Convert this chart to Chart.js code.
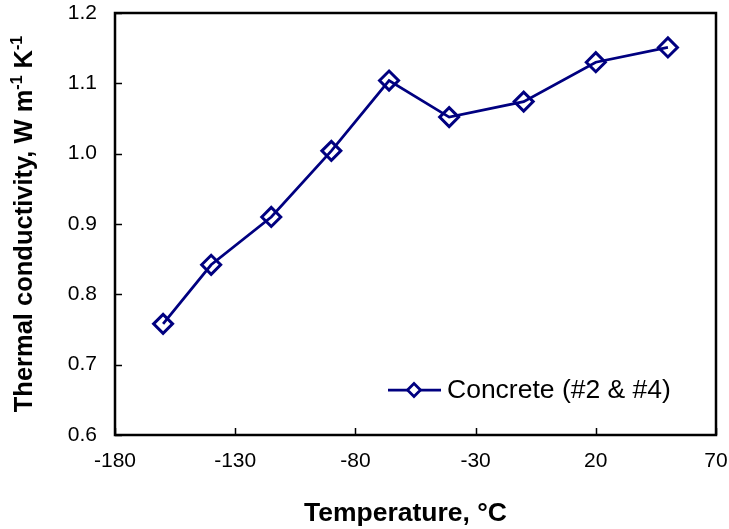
<!DOCTYPE html>
<html>
<head>
<meta charset="utf-8">
<script src="https://cdn.jsdelivr.net/npm/chart.js@4/dist/chart.umd.min.js"></script>
<style>
html,body{margin:0;padding:0;background:#fff;}
#wrap{width:729px;height:529px;}
</style>
</head>
<body>
<div id="wrap"><canvas id="c" width="729" height="529"></canvas></div>
<script>
// Data
const temperatures = [-160, -140, -115, -90, -66, -41, -10, 20, 50];
const conductivity = [0.758, 0.842, 0.910, 1.004, 1.104, 1.052, 1.074, 1.130, 1.151];
const xTickValues = [-180, -130, -80, -30, 20, 70];
const yTickValues = [0.6, 0.7, 0.8, 0.9, 1.0, 1.1, 1.2];
const seriesLabel = 'Concrete (#2 & #4)';
const xTitle = 'Temperature, °C';
// y title pieces: [text, isSuperscript]
const yTitleParts = [['Thermal conductivity, W m', false], ['-1', true], [' K', false], ['-1', true]];

const NAVY = '#000080';
const FONT = "'Liberation Sans', Arial, sans-serif";

const framePlugin = {
  id: 'frame',
  beforeDatasetsDraw(chart) {
    const {ctx, chartArea: a, scales} = chart;
    ctx.save();
    ctx.strokeStyle = '#000';
    ctx.lineWidth = 1.5;
    scales.y.ticks.forEach(t => {
      const py = Math.round(scales.y.getPixelForValue(t.value)) + 0.5;
      ctx.beginPath(); ctx.moveTo(a.left, py); ctx.lineTo(a.left + 7, py); ctx.stroke();
    });
    scales.x.ticks.forEach(t => {
      const px = Math.round(scales.x.getPixelForValue(t.value)) + 0.5;
      ctx.beginPath(); ctx.moveTo(px, a.bottom); ctx.lineTo(px, a.bottom - 7); ctx.stroke();
    });
    ctx.lineWidth = 2.5;
    ctx.strokeRect(a.left, a.top, a.right - a.left, a.bottom - a.top);
    ctx.restore();

    // axis titles
    ctx.save();
    ctx.fillStyle = '#000';
    ctx.font = 'bold 26.5px ' + FONT;
    ctx.textAlign = 'center';
    ctx.textBaseline = 'alphabetic';
    ctx.fillText(xTitle, 405.5, 520.5);
    ctx.restore();

    ctx.save();
    ctx.fillStyle = '#000';
    const mainFont = 'bold 25.5px ' + FONT;
    const supFont = 'bold 16px ' + FONT;
    let total = 0;
    const widths = yTitleParts.map(([t, sup]) => {
      ctx.font = sup ? supFont : mainFont;
      const w = ctx.measureText(t).width;
      total += w;
      return w;
    });
    ctx.translate(32, (a.top + a.bottom) / 2);
    ctx.rotate(-Math.PI / 2);
    ctx.textAlign = 'left';
    ctx.textBaseline = 'alphabetic';
    let x = -total / 2;
    yTitleParts.forEach(([t, sup], i) => {
      ctx.font = sup ? supFont : mainFont;
      ctx.fillText(t, x, sup ? -10 : 0);
      x += widths[i];
    });
    ctx.restore();
  },
  afterDatasetsDraw(chart) {
    const {ctx} = chart;
    const ds = chart.data.datasets[0];
    const y = 390;
    ctx.save();
    ctx.strokeStyle = ds.borderColor;
    ctx.lineWidth = ds.borderWidth;
    ctx.beginPath(); ctx.moveTo(388, y); ctx.lineTo(441, y); ctx.stroke();
    ctx.fillStyle = '#ffffff';
    Chart.helpers.drawPoint(ctx, {pointStyle: 'rectRot', radius: 6.5, borderWidth: 2.5}, 414, y);
    ctx.restore();
    ctx.save();
    ctx.fillStyle = '#000';
    ctx.font = '26.5px ' + FONT;
    ctx.textBaseline = 'middle';
    ctx.textAlign = 'left';
    ctx.fillText(ds.label, 447, y + 1);
    ctx.restore();
  }
};

const ctx = document.getElementById('c').getContext('2d');
new Chart(ctx, {
  type: 'line',
  data: {
    datasets: [{
      label: seriesLabel,
      data: temperatures.map((t, i) => ({x: t, y: conductivity[i]})),
      borderColor: NAVY,
      backgroundColor: '#ffffff',
      borderWidth: 2.75,
      pointStyle: 'rectRot',
      pointRadius: 9.5,
      pointBorderWidth: 3,
      pointBackgroundColor: 'rgba(255,255,255,0)',
      pointBorderColor: NAVY,
      tension: 0,
      fill: false
    }]
  },
  options: {
    responsive: false,
    animation: false,
    events: [],
    layout: {padding: {left: 0, right: 13, top: 13, bottom: 0}},
    plugins: {legend: {display: false}, tooltip: {enabled: false}},
    scales: {
      x: {
        type: 'linear',
        min: -180, max: 70,
        afterBuildTicks(s) { s.ticks = xTickValues.map(v => ({value: v})); },
        afterFit(s) { s.height = 94; s.paddingLeft = 0; s.paddingRight = 0; },
        grid: {display: false, drawTicks: false},
        border: {display: false},
        ticks: {
          padding: 14,
          color: '#000',
          font: {family: FONT, size: 21},
          maxRotation: 0,
          callback: v => String(v)
        },
        title: {display: false}
      },
      y: {
        type: 'linear',
        min: 0.6, max: 1.2,
        afterBuildTicks(s) { s.ticks = yTickValues.map(v => ({value: v})); },
        afterFit(s) { s.width = 115; s.paddingTop = 0; s.paddingBottom = 0; },
        grid: {display: false, drawTicks: false},
        border: {display: false},
        ticks: {
          padding: 18,
          color: '#000',
          font: {family: FONT, size: 21},
          callback: v => Number(v).toFixed(1)
        },
        title: {display: false}
      }
    }
  },
  plugins: [framePlugin]
});
</script>
</body>
</html>
